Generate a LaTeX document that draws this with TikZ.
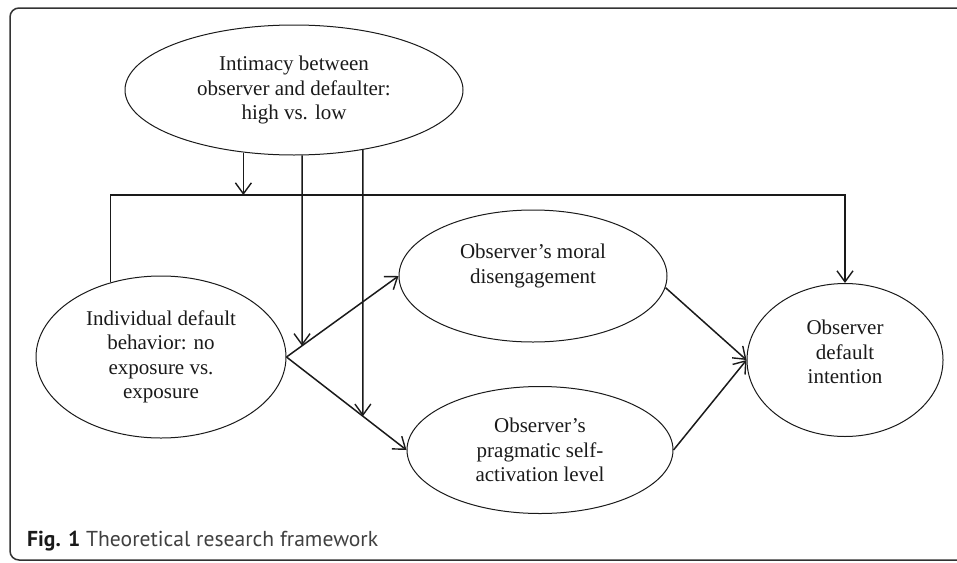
\documentclass[tikz,border=0pt]{standalone}
\usepackage{fontspec}
\setmainfont{Liberation Serif}
\newfontfamily\capfont{PT Sans}
\usetikzlibrary{shapes.geometric,arrows.meta}
\definecolor{ink}{HTML}{1A1A1A}
\definecolor{capgray}{HTML}{404040}
\begin{document}
\begin{tikzpicture}[x=1pt,y=-1pt,
  ell/.style={draw=ink,ellipse,line width=1pt,inner sep=0pt,align=center,text=ink,
    font=\fontsize{21}{24.5}\selectfont},
  txt/.style={inner sep=0pt,align=center,text=ink,font=\fontsize{21}{24.5}\selectfont},
  conn/.style={draw=ink,line width=1.5pt,-{Straight Barb[length=11pt,width=16pt,line width=1.4pt]}},
  framestyle/.style={draw=black!80,line width=1.5pt,rounded corners=9pt}]
\useasboundingbox (0,0) rectangle (957,562);
\draw[framestyle] (960,8) -- (10,8) -- (10,560) -- (960,560);
% nodes
\node[ell,minimum width=338pt,minimum height=130pt] (top) at (294,90)
  {Intimacy between\\observer and defaulter:\\high vs. low};
\node[ell,minimum width=250pt,minimum height=162pt] (ind) at (161,357)
  {Individual default\\behavior: no\\exposure vs.\\exposure};
\node[ell,minimum width=268pt,minimum height=132pt] (moral) at (533,276)
  {Observer's moral\\disengagement\\\mbox{}};
\node[ell,minimum width=266pt,minimum height=127pt] (prag) at (540,450)
  {Observer's\\pragmatic self-\\activation level};
\node[ell,minimum width=196pt,minimum height=153pt] (obs) at (845,360) {};
\node[txt] (obstxt) at (845,352) {Observer\\default\\intention};
% helper coordinates
\coordinate (hy) at (0,195);
\coordinate (a1) at (top.-129.4);
\coordinate (a2) at (top.-83);
\coordinate (b2) at (a2 |- ind.south);
\coordinate (a3) at (top.-41.2);
\coordinate (b3) at (a3 |- prag.south);
% connectors
\draw[conn] (a1) -- (a1 |- hy);
\draw[conn] (ind.124) |- (obs.north |- hy) -- (obs.north);
\draw[conn] (ind.east) -- (moral.west);
\draw[conn] (ind.east) -- (prag.west);
\draw[conn] (a2) -- (intersection of a2--b2 and ind.east--moral.west);
\draw[conn] (a3) -- (intersection of a3--b3 and ind.east--prag.west);
\draw[conn] (moral.-5) -- (obs.west);
\draw[conn] (prag.east) -- (obs.west);
% caption
\node[anchor=base west,inner sep=0pt,font=\capfont\fontsize{21.6}{26}\selectfont,text=capgray]
  (cap) at (27,546) {\textcolor{ink}{\textbf{Fig. 1}} Theoretical research framework};
\end{tikzpicture}
\end{document}
